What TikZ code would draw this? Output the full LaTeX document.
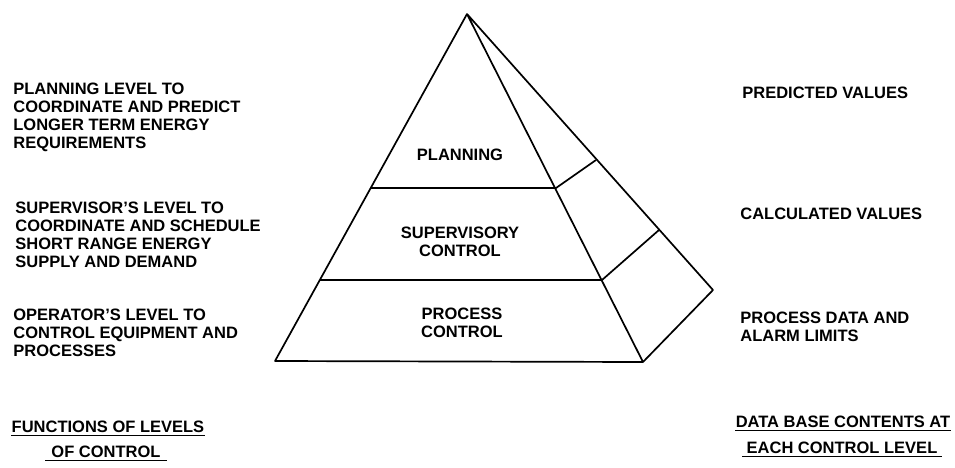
\documentclass[tikz,border=0pt]{standalone}
\usepackage{fontspec}
\setmainfont{Liberation Sans}
\usepackage{tikz}
\usetikzlibrary{positioning}

\begin{document}
\begin{tikzpicture}[x=1pt,y=-1pt,thick,
  level text/.style={font=\bfseries\fontsize{16.5}{18}\selectfont,align=left,anchor=north west,inner sep=0pt},
  layer label/.style={font=\bfseries\fontsize{16.5}{18}\selectfont,align=center},
  title text/.style={font=\bfseries\fontsize{16.5}{18}\selectfont,inner xsep=0pt,inner ysep=2.5pt},
  edge line/.style={line width=1.7pt,line join=round}]
  \useasboundingbox (0,0) rectangle (955,467);

  % pyramid corners
  \coordinate (top) at (467,14);
  \coordinate (bl) at (275,361);
  \coordinate (br) at (643,362);
  \coordinate (back) at (713,290);
  \coordinate (p1l) at (370,188);
  \coordinate (p1r) at (556,188);
  \coordinate (p2l) at (320,280);
  \coordinate (p2r) at (602,280);
  \coordinate (b1) at (596,160);
  \coordinate (b2) at (659,230);

  \draw[edge line] (top) -- (bl) -- (br) -- (top) -- (back) -- (br);
  \draw[edge line] (p1l) -- (p1r) -- (b1);
  \draw[edge line] (p2l) -- (p2r) -- (b2);

  \node[layer label] (plan) at (460,155) {PLANNING};
  \node[layer label] (sup) at (460,242) {SUPERVISORY\\CONTROL};
  \node[layer label] (proc) at (462,323) {PROCESS\\CONTROL};

  % functions
  \node[level text] (f1) at (13,83) {PLANNING LEVEL TO\\COORDINATE AND PREDICT\\LONGER TERM ENERGY\\REQUIREMENTS};
  \node[level text] (f2) at (15,202) {SUPERVISOR'S LEVEL TO\\COORDINATE AND SCHEDULE\\SHORT RANGE ENERGY\\SUPPLY AND DEMAND};
  \node[level text] (f3) at (13,309) {OPERATOR'S LEVEL TO\\CONTROL EQUIPMENT AND\\PROCESSES};

  % data base
  \node[level text] (d1) at (742,87) {PREDICTED VALUES};
  \node[level text] (d2) at (740,208) {CALCULATED VALUES};
  \node[level text] (d3) at (740,312) {PROCESS DATA AND\\ALARM LIMITS};

  % titles
  \node[title text] (ft1) at (108,427) {FUNCTIONS OF LEVELS};
  \node[title text,inner xsep=6pt] (ft2) at (106,452) {OF CONTROL};
  \node[title text] (dt1) at (843,422) {DATA BASE CONTENTS AT};
  \node[title text,inner xsep=4pt] (dt2) at (842,448) {EACH CONTROL LEVEL};
  \draw (ft1.south west) -- (ft1.south east);
  \draw (ft2.south west) -- (ft2.south east);
  \draw (dt1.south west) -- (dt1.south east);
  \draw (dt2.south west) -- (dt2.south east);
\end{tikzpicture}
\end{document}
